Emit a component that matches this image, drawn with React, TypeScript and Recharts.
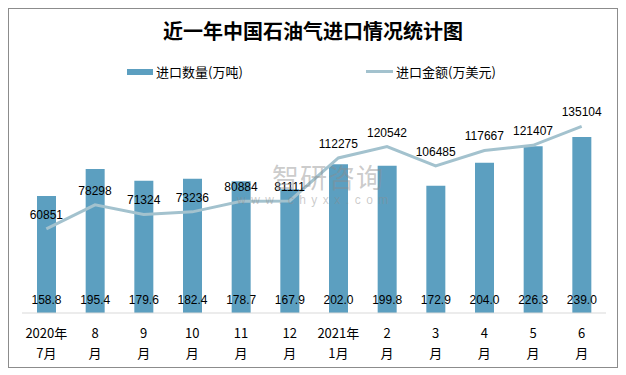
import React from "react";
import { ComposedChart, Bar, Line, XAxis, YAxis, LabelList } from "recharts";

// 月份（两行显示，用 \n 分隔）
const months = [
  "2020年\n7月", "8\n月", "9\n月", "10\n月", "11\n月", "12\n月",
  "2021年\n1月", "2\n月", "3\n月", "4\n月", "5\n月", "6\n月",
];
// 进口数量(万吨)
const importVolume = [158.8, 195.4, 179.6, 182.4, 178.7, 167.9, 202.0, 199.8, 172.9, 204.0, 226.3, 239.0];
// 进口金额(万美元)
const importValue = [60851, 78298, 71324, 73236, 80884, 81111, 112275, 120542, 106485, 117667, 121407, 135104];

const data = months.map((m, i) => ({
  month: m,
  volume: importVolume[i],
  value: importValue[i],
}));

const barColor = "#5C9FC0";
const lineColor = "#A3C2CE";
const cjk = '"Noto Sans CJK SC", "Liberation Sans", sans-serif';
const numFont = '"Liberation Sans", Arial, sans-serif';

const MonthTick = (props: any) => {
  const { x, y, payload } = props;
  const [a, b] = String(payload.value).split("\n");
  return (
    <g>
      <text x={x} y={y + 25} textAnchor="middle" fontSize={13} fontFamily={cjk} fill="#000">{a}</text>
      <text x={x} y={y + 45} textAnchor="middle" fontSize={13} fontFamily={cjk} fill="#000">{b}</text>
    </g>
  );
};

export default function App() {
  return (
    <div
      style={{
        position: "relative",
        width: 610,
        height: 360,
        border: "1px solid #8c8c8c",
        boxSizing: "border-box",
        background: "#fff",
      }}
    >
      <div
        style={{
          position: "absolute",
          top: 10,
          left: 0,
          width: 608,
          textAlign: "center",
          fontFamily: cjk,
          fontWeight: 700,
          fontSize: 20,
          lineHeight: "24px",
          color: "#000",
        }}
      >
        近一年中国石油气进口情况统计图
      </div>

      {/* 图例 */}
      <div style={{ position: "absolute", top: 53, left: 118, display: "flex", alignItems: "center", fontFamily: cjk, fontSize: 13 }}>
        <span style={{ display: "inline-block", width: 26, height: 6, background: barColor, marginRight: 3 }} />
        <span>进口数量(万吨)</span>
      </div>
      <div style={{ position: "absolute", top: 53, left: 357, display: "flex", alignItems: "center", fontFamily: cjk, fontSize: 13 }}>
        <span style={{ display: "inline-block", width: 27, height: 3, background: lineColor, marginRight: 3 }} />
        <span>进口金额(万美元)</span>
      </div>

      <ComposedChart
        width={608}
        height={358}
        data={data}
        margin={{ top: 83, right: 11, bottom: 0, left: 13 }}
      >
        <XAxis
          dataKey="month"
          height={54}
          tickLine={false}
          tickSize={0}
          tickMargin={0}
          axisLine={{ stroke: "#d9d9d9" }}
          interval={0}
          tick={<MonthTick />}
        />
        <YAxis yAxisId="left" hide domain={[0, 300]} />
        <YAxis yAxisId="right" hide orientation="right" domain={[0, 160000]} />
        <Bar yAxisId="left" dataKey="volume" fill={barColor} barSize={19} isAnimationActive={false}>
          <LabelList
            dataKey="volume"
            position="insideBottom"
            offset={9}
            formatter={(v: any) => Number(v).toFixed(1)}
            style={{ fontSize: 12, fontFamily: numFont, fill: "#000" }}
          />
        </Bar>
        <Line
          yAxisId="right"
          type="linear"
          dataKey="value"
          stroke={lineColor}
          strokeWidth={3}
          dot={false}
          isAnimationActive={false}
        >
          <LabelList
            dataKey="value"
            position="top"
            offset={10}
            style={{ fontSize: 12, fontFamily: numFont, fill: "#000" }}
          />
        </Line>
      </ComposedChart>

      {/* 水印 */}
      <div
        style={{
          position: "absolute",
          top: 154,
          left: 263,
          fontFamily: cjk,
          fontSize: 27,
          lineHeight: "28px",
          letterSpacing: 1,
          color: "rgba(140,140,140,0.45)",
          pointerEvents: "none",
        }}
      >
        智研咨询
      </div>
      <div
        style={{
          position: "absolute",
          top: 184,
          left: 228,
          fontFamily: numFont,
          fontSize: 12,
          lineHeight: "14px",
          letterSpacing: 5.5,
          color: "rgba(140,140,140,0.45)",
          pointerEvents: "none",
        }}
      >
        www.chyxx.com
      </div>
    </div>
  );
}
